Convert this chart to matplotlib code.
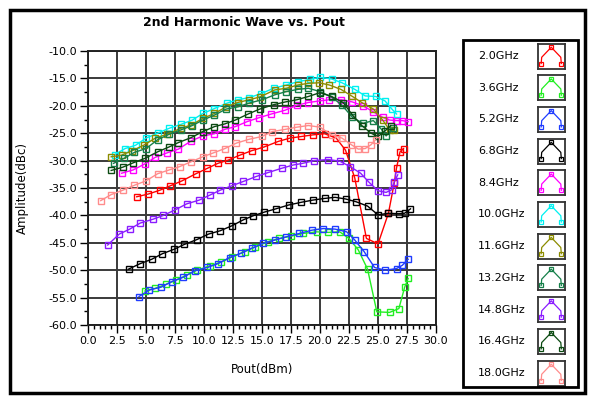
import numpy as np
import matplotlib
matplotlib.use("Agg")
import matplotlib.pyplot as plt
from matplotlib.patches import Rectangle
from matplotlib.ticker import MultipleLocator, FormatStrFormatter

plt.rcParams['font.family'] = ['DejaVu Sans']
plt.rcParams['axes.unicode_minus'] = False

# --- data (Pout dBm, amplitude dBc) ---
freq_labels = ["2.0GHz", "3.6GHz", "5.2GHz", "6.8GHz", "8.4GHz", "10.0GHz",
               "11.6GHz", "13.2GHz", "14.8GHz", "16.4GHz", "18.0GHz"]
colors = ["#ff0000", "#22ee22", "#1f3cff", "#000000", "#ff00ff", "#00f0f0",
          "#8c8c00", "#16804a", "#8a1cff", "#0b4a12", "#ff8c8c"]

x_2g0 = [4.2, 5.2, 6.2, 7.1, 8.1, 9.3, 10.3, 11.2, 12.1, 13.1, 14.1, 15.2, 16.4, 17.4, 18.4,
         19.4, 20.4, 21.4, 22.2, 23.0, 24.0, 25.0, 25.9, 26.4, 26.6, 26.9, 27.2]
y_2g0 = [-36.6, -36.1, -35.4, -34.6, -33.7, -32.4, -31.4, -30.5, -29.9, -29.0, -28.2, -27.5, -26.5,
         -25.9, -25.6, -25.3, -25.1, -25.9, -28.1, -33.2, -44.2, -45.2, -39.6, -34.1, -31.3, -28.4, -27.8]

x_3g6 = [4.9, 5.8, 6.7, 7.6, 8.5, 9.4, 10.5, 11.5, 12.4, 13.5, 14.4, 15.5, 16.5, 17.5, 18.5,
         19.7, 20.7, 21.7, 22.5, 23.3, 24.1, 24.9, 26.0, 26.8, 27.3, 27.6]
y_3g6 = [-53.8, -53.3, -52.6, -51.8, -50.9, -50.0, -49.2, -48.5, -47.6, -46.6, -45.8, -44.8, -44.2,
         -43.8, -43.3, -43.0, -43.1, -43.0, -44.2, -46.3, -49.8, -57.6, -57.7, -57.0, -53.1, -51.5]

x_5g2 = [4.4, 5.3, 6.3, 7.2, 8.2, 9.2, 10.3, 11.2, 12.2, 13.2, 14.1, 15.1, 16.1, 17.1, 18.2,
         19.3, 20.3, 21.3, 22.3, 23.0, 23.8, 24.7, 25.6, 26.6, 27.1, 27.6]
y_5g2 = [-54.8, -53.6, -53.1, -52.1, -51.3, -50.1, -49.5, -48.8, -47.7, -46.9, -46.0, -45.1, -44.5,
         -43.9, -43.3, -42.7, -42.4, -42.5, -43.0, -44.5, -46.6, -49.5, -50.0, -49.7, -49.1, -48.0]

x_6g8 = [3.5, 4.5, 5.5, 6.4, 7.4, 8.3, 9.4, 10.4, 11.4, 12.4, 13.4, 14.2, 15.2, 16.2, 17.3,
         18.4, 19.4, 20.4, 21.3, 22.2, 23.1, 24.1, 25.0, 25.9, 26.8, 27.3, 27.8]
y_6g8 = [-49.8, -48.8, -48.0, -47.0, -46.2, -45.3, -44.4, -43.4, -42.8, -41.9, -40.8, -40.1, -39.4,
         -38.8, -38.1, -37.6, -37.2, -36.9, -36.7, -37.0, -37.5, -38.3, -39.9, -39.6, -39.7, -39.6, -38.8]

x_8g4 = [2.9, 3.9, 4.9, 5.8, 6.8, 7.8, 8.9, 9.9, 10.9, 11.8, 12.7, 13.7, 14.7, 15.8, 17.0,
         18.0, 19.0, 20.0, 20.8, 21.8, 22.8, 23.7, 24.6, 25.4, 26.0, 26.6, 27.1, 27.6]
y_8g4 = [-32.3, -31.7, -30.6, -29.4, -28.6, -27.9, -26.4, -25.5, -25.1, -24.3, -23.8, -22.9, -22.2,
         -21.5, -20.8, -19.9, -19.4, -19.1, -18.9, -18.9, -19.3, -20.0, -21.1, -22.1, -22.6, -22.7,
         -22.7, -22.9]

x_10g0 = [2.3, 3.2, 4.1, 5.0, 6.0, 7.0, 8.0, 9.0, 9.9, 10.9, 12.0, 12.9, 13.9, 14.9, 16.0,
          17.1, 18.1, 19.1, 20.0, 21.0, 21.9, 23.0, 23.9, 24.8, 25.6, 26.2, 26.6]
y_10g0 = [-28.9, -27.8, -27.2, -25.9, -25.0, -24.1, -23.4, -22.6, -21.4, -20.5, -19.5, -18.9, -18.5,
          -17.8, -16.8, -16.2, -15.6, -15.2, -14.8, -15.1, -15.8, -17.0, -18.2, -18.3, -19.1, -20.6, -21.5]

x_11g6 = [2.0, 2.9, 3.8, 4.8, 5.8, 6.8, 8.0, 8.9, 9.9, 10.9, 11.9, 12.9, 13.9, 14.8, 16.1,
          17.1, 18.1, 19.0, 19.9, 20.8, 21.8, 22.8, 23.6, 24.6, 25.4, 26.0, 26.4]
y_11g6 = [-29.3, -29.0, -28.2, -27.2, -25.9, -25.2, -24.1, -23.5, -22.3, -21.4, -20.2, -19.4, -18.9,
          -18.4, -17.1, -16.8, -16.2, -15.9, -15.8, -16.2, -17.0, -18.3, -19.4, -20.6, -22.6, -24.4, -24.5]

x_13g2 = [2.2, 3.1, 4.0, 5.0, 6.0, 7.0, 8.0, 9.0, 9.9, 10.9, 11.9, 12.9, 13.9, 15.0, 16.1,
          17.1, 18.1, 19.0, 20.0, 21.0, 21.9, 22.8, 23.7, 24.6, 25.3, 25.7, 26.3]
y_13g2 = [-30.5, -29.6, -28.5, -27.8, -26.2, -25.2, -24.4, -23.6, -22.6, -21.7, -20.6, -20.2, -19.5,
          -18.9, -18.0, -17.4, -17.0, -16.8, -17.4, -18.4, -19.9, -22.1, -23.2, -22.7, -24.3, -25.5, -24.0]

x_14g8 = [1.7, 2.7, 3.6, 4.5, 5.6, 6.5, 7.5, 8.5, 9.6, 10.5, 11.4, 12.4, 13.4, 14.5, 15.5,
          16.7, 17.7, 18.5, 19.5, 20.7, 21.7, 22.6, 23.5, 24.2, 25.0, 25.7, 26.2, 26.4, 26.7]
y_14g8 = [-45.4, -43.4, -42.5, -41.4, -40.7, -40.0, -39.0, -37.9, -37.2, -36.3, -35.4, -34.6, -33.8,
          -32.9, -32.2, -31.4, -30.8, -30.5, -30.0, -29.8, -30.1, -31.1, -32.3, -33.9, -35.5, -35.8,
          -35.3, -33.9, -32.6]

x_16g4 = [2.0, 3.0, 3.9, 4.9, 6.0, 7.0, 7.8, 8.9, 9.9, 10.9, 11.8, 12.7, 13.8, 14.8, 16.0,
          17.0, 18.0, 19.0, 20.0, 21.0, 22.0, 22.8, 23.6, 24.4, 25.0, 25.6, 26.1]
y_16g4 = [-31.8, -31.2, -30.4, -29.6, -28.4, -27.5, -26.7, -25.8, -24.7, -23.8, -23.3, -22.6, -21.5,
          -20.6, -19.8, -19.3, -18.9, -18.3, -17.6, -18.3, -19.4, -21.7, -23.6, -25.0, -25.6, -24.6, -23.6]

x_18g0 = [1.1, 2.0, 3.0, 4.0, 5.0, 6.0, 7.0, 7.9, 8.9, 9.9, 10.8, 11.8, 12.8, 13.9, 15.0,
          15.9, 17.0, 18.0, 19.0, 20.0, 21.0, 21.9, 22.7, 23.3, 23.9, 24.4, 24.8]
y_18g0 = [-37.3, -36.2, -35.4, -34.5, -33.7, -32.4, -31.7, -31.1, -30.2, -29.3, -28.6, -27.8, -26.8,
          -26.1, -25.6, -24.7, -24.3, -23.9, -23.6, -23.9, -25.3, -25.9, -27.1, -27.9, -27.8, -27.1, -26.2]

xs = [x_2g0, x_3g6, x_5g2, x_6g8, x_8g4, x_10g0, x_11g6, x_13g2, x_14g8, x_16g4, x_18g0]
ys = [y_2g0, y_3g6, y_5g2, y_6g8, y_8g4, y_10g0, y_11g6, y_13g2, y_14g8, y_16g4, y_18g0]

W, H = 589, 396
fig = plt.figure(figsize=(W / 100, H / 100), dpi=100)

def fx(px):
    return px / W

def fy(py):
    return 1 - py / H

ax = fig.add_axes([fx(88), fy(325), fx(436) - fx(88), fy(51) - fy(325)])

# draw in legend order so later series sit on top, like the reference
for x, y, c in zip(xs, ys, colors):
    ax.plot(x, y, color=c, lw=1.0, marker='s', ms=4.2, mfc='none', mec=c, mew=1.0)

ax.set_xlim(0, 30)
ax.set_ylim(-60, -10)
ax.xaxis.set_major_locator(MultipleLocator(2.5))
ax.xaxis.set_minor_locator(MultipleLocator(0.5))
ax.yaxis.set_major_locator(MultipleLocator(5))
ax.yaxis.set_minor_locator(MultipleLocator(2.5))
ax.xaxis.set_major_formatter(FormatStrFormatter('%.1f'))
ax.yaxis.set_major_formatter(FormatStrFormatter('%.1f'))
ax.tick_params(which='major', direction='out', length=6, width=1, labelsize=8, pad=2)
ax.tick_params(which='minor', direction='out', length=3, width=1)
ax.grid(True, which='major', color='#3a3a3a', lw=1.4)
for s in ax.spines.values():
    s.set_color('#222222')
    s.set_linewidth(1.4)

fig.text(fx(22), fy(188), "Amplitude(dBc)", rotation=90, ha='center', va='center', fontsize=8.5)
fig.text(fx(262), fy(369), "Pout(dBm)", ha='center', va='center', fontsize=8.5)
fig.text(fx(244), fy(22), "2nd Harmonic Wave vs. Pout", ha='center', va='center',
         fontsize=9, fontweight='bold')

# outer frame
fig.patches.append(Rectangle((fx(9.5), fy(392.5)), fx(585) - fx(9.5), fy(9.5) - fy(392.5),
                             transform=fig.transFigure, fill=False, lw=2.5, ec='black'))

# legend box with mini swatches
fig.patches.append(Rectangle((fx(462.5), fy(387)), fx(578) - fx(462.5), fy(40) - fy(387),
                             transform=fig.transFigure, fill=False, lw=2.0, ec='black'))
for i, (lab, c) in enumerate(zip(freq_labels, colors)):
    top = 43.5 + 31.7 * i
    fig.text(fx(478), fy(top + 12.5), lab, ha='left', va='center', fontsize=8)
    sw = fig.add_axes([fx(538), fy(top + 25), fx(564.5) - fx(538), fy(top) - fy(top + 25)])
    sw.plot([0.12, 0.14, 0.5, 0.86, 0.88], [0.2, 0.45, 0.85, 0.45, 0.2], color=c, lw=0.9,
            marker='s', ms=3, mfc='none', mec=c, mew=0.9, markevery=[0, 2, 4])
    sw.set_xlim(0, 1)
    sw.set_ylim(0, 1)
    sw.set_xticks([])
    sw.set_yticks([])
    for s in sw.spines.values():
        s.set_linewidth(1.3)
        s.set_color('#333333')

fig.savefig("out.png", dpi=100)
